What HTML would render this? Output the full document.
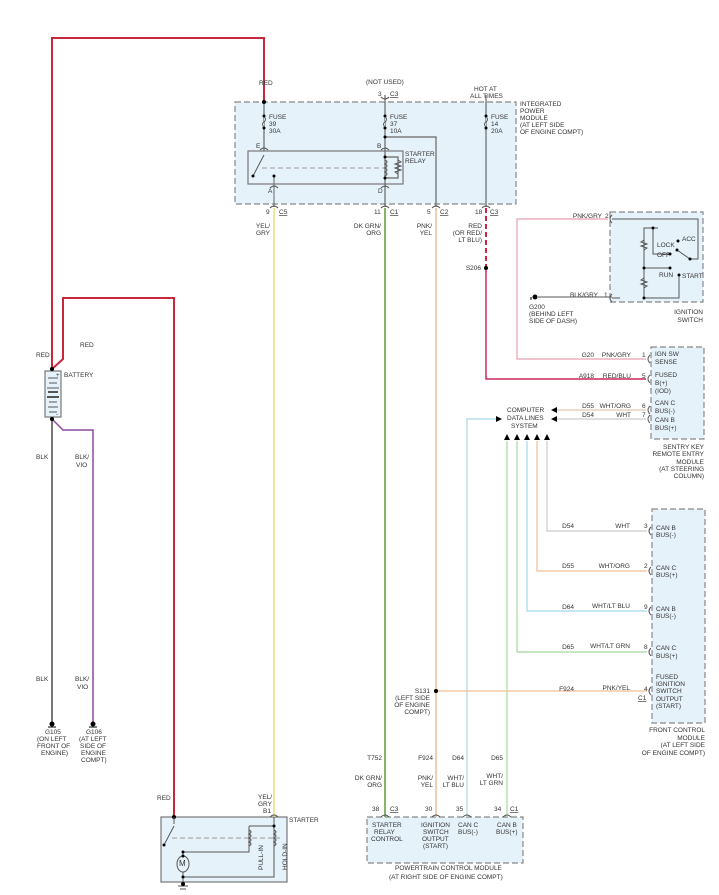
<!DOCTYPE html>
<html><head><meta charset="utf-8"><style>
html,body{margin:0;padding:0;background:#fff;}
svg{display:block;}
text{font-family:"Liberation Sans",sans-serif;font-size:6.5px;fill:#333;}
.b{fill:#e6f2fa;stroke:#888;stroke-width:1.2;stroke-dasharray:6 3;}
.s{fill:#e6f2fa;stroke:#777;stroke-width:1.2;}
.w{fill:none;stroke:#666;stroke-width:1.2;}
.r{text-anchor:end;}
</style></head><body>
<svg width="719" height="895" viewBox="0 0 719 895" xmlns="http://www.w3.org/2000/svg">
<rect class="b" x="235" y="102" width="281" height="102"/>
<rect class="s" x="248" y="151" width="155" height="33"/>
<rect class="b" x="610" y="212" width="93" height="90"/>
<rect class="b" x="651" y="347" width="53" height="92"/>
<rect class="b" x="652" y="509" width="53" height="214"/>
<rect class="b" x="367" y="817" width="156" height="46"/>
<rect class="s" x="161" y="817" width="126" height="65"/>
<rect class="s" x="45" y="371" width="16" height="46"/>

<polyline fill="none" stroke="#c8283c" stroke-width="2" points="52,369 52,38 264,38 264,102"/>
<polyline fill="none" stroke="#c8283c" stroke-width="2" points="52,369 63,359 63,298 174,298 174,817"/>
<line x1="52" y1="419" x2="52" y2="722" stroke="#777" stroke-width="2"/>
<polyline fill="none" stroke="#8a4aa0" stroke-width="1.5" points="52,419 63,430 93,430 93,722"/>
<circle cx="52" cy="369" r="2" fill="#000"/><circle cx="52" cy="419" r="2" fill="#000"/>
<g stroke="#555" stroke-width="1">
<line x1="48" y1="378" x2="58" y2="378"/><line x1="49" y1="383" x2="57" y2="383"/>
<line x1="47" y1="388" x2="59" y2="388"/><line x1="48" y1="392" x2="58" y2="392" stroke-width="2"/>
<line x1="47" y1="397" x2="59" y2="397" stroke-width="2"/><line x1="49" y1="402" x2="57" y2="402"/>
<line x1="48" y1="407" x2="58" y2="407"/><line x1="49" y1="412" x2="57" y2="412"/></g>
<text x="56" y="377" style="font-size:6px">+</text><text x="56" y="416" style="font-size:6px">-</text>

<line class="w" x1="264" y1="102" x2="264" y2="151"/>
<line class="w" x1="385" y1="95" x2="385" y2="151"/>
<line class="w" x1="486" y1="95" x2="486" y2="207"/>
<polyline class="w" points="385,137 436,137 436,207"/>
<circle cx="264" cy="102" r="2" fill="#000"/>
<g fill="#000"><circle cx="264" cy="116" r="1.5"/><circle cx="264" cy="128" r="1.5"/><circle cx="385" cy="116" r="1.5"/><circle cx="385" cy="128" r="1.5"/><circle cx="486" cy="116" r="1.5"/><circle cx="486" cy="128" r="1.5"/><circle cx="385" cy="137" r="1.5"/></g>
<path d="M264,117 q3,2 0,5 q-3,2 0,5 M385,117 q3,2 0,5 q-3,2 0,5 M486,117 q3,2 0,5 q-3,2 0,5" fill="#e6f2fa" stroke="#555" stroke-width="1"/>
<line x1="264" y1="155" x2="253" y2="176" stroke="#555"/><circle cx="253" cy="176" r="1.5" fill="#000"/>
<line x1="274" y1="175" x2="274" y2="207" stroke="#666"/><circle cx="274" cy="176" r="1.5" fill="#000"/>
<line x1="262" y1="168" x2="385" y2="168" stroke="#999" stroke-dasharray="5 3"/>
<polyline class="w" points="385,151 385,184 385,207"/>
<polyline class="w" points="385,157 398,157 398,178 385,178"/>
<path d="M385,160 q4,2 0,4 q4,2 0,4 q4,2 0,4 q4,2 0,4 M398,160 l3,2 -6,2 6,2 -6,2 6,2 -6,2 3,2" fill="none" stroke="#555" stroke-width="1"/>
<circle cx="385" cy="157" r="1.5" fill="#000"/><circle cx="385" cy="178" r="1.5" fill="#000"/>
<g fill="none" stroke="#555"><path d="M260,150 q4,-4 8,0"/><path d="M381,150 q4,-4 8,0"/><path d="M270,188 q4,-4 8,0"/><path d="M381,188 q4,-4 8,0"/>
<path d="M270,208 q4,-4 8,0"/><path d="M381,208 q4,-4 8,0"/><path d="M432,208 q4,-4 8,0"/><path d="M482,208 q4,-4 8,0"/><path d="M381,97 q4,4 8,0"/></g>
<text x="269" y="119">FUSE</text><text x="269" y="126">39</text><text x="269" y="133">30A</text>
<text x="390" y="119">FUSE</text><text x="390" y="126">37</text><text x="390" y="133">10A</text>
<text x="491" y="119">FUSE</text><text x="491" y="126">14</text><text x="491" y="133">20A</text>
<text x="256" y="148">E</text><text x="377" y="148">B</text><text x="268" y="193">A</text><text x="378" y="193">D</text>
<text x="405" y="156">STARTER</text><text x="405" y="163">RELAY</text>
<text x="520" y="106">INTEGRATED</text><text x="520" y="113">POWER</text><text x="520" y="120">MODULE</text><text x="520" y="127">(AT LEFT SIDE</text><text x="520" y="134">OF ENGINE COMPT)</text>
<text x="366" y="84">(NOT USED)</text><text x="378" y="96">3</text><text x="390" y="96" text-decoration="underline">C3</text>
<text x="474" y="91">HOT AT</text><text x="470" y="98">ALL TIMES</text>
<text x="259" y="85">RED</text>
<text x="266" y="214">9</text><text x="279" y="214" text-decoration="underline">C5</text>
<text x="374" y="214">11</text><text x="390" y="214" text-decoration="underline">C1</text>
<text x="427" y="214">5</text><text x="440" y="214" text-decoration="underline">C2</text>
<text x="475" y="214">18</text><text x="490" y="214" text-decoration="underline">C3</text>
<text class="r" x="270" y="228">YEL/</text><text class="r" x="270" y="235">GRY</text>
<text class="r" x="381" y="228">DK GRN/</text><text class="r" x="381" y="235">ORG</text>
<text class="r" x="432" y="228">PNK/</text><text class="r" x="432" y="235">YEL</text>
<text class="r" x="482" y="228">RED</text><text class="r" x="482" y="235">(OR RED/</text><text class="r" x="482" y="242">LT BLU)</text>

<line x1="274" y1="208" x2="274" y2="817" stroke="#e2e27a" stroke-width="1.5"/>
<line x1="385" y1="208" x2="385" y2="817" stroke="#5a9e3a" stroke-width="1.5"/>
<line x1="436" y1="208" x2="436" y2="817" stroke="#efbf98" stroke-width="1.5"/>
<line x1="486" y1="208" x2="486" y2="268" stroke="#c8283c" stroke-width="2" stroke-dasharray="5 3"/>
<polyline fill="none" stroke="#c8285a" stroke-width="1.5" points="486,268 486,379 646,379"/>
<circle cx="486" cy="268" r="2" fill="#000"/><text class="r" x="481" y="270">S206</text>
<polyline fill="none" stroke="#e8a0b0" stroke-width="1.2" points="608,219 517,219 517,359 646,359"/>
<line x1="556" y1="410" x2="646" y2="410" stroke="#e8c8b0" stroke-width="1.2"/>
<line x1="556" y1="419" x2="646" y2="419" stroke="#ccc" stroke-width="1.2"/>
<polygon points="551,410 557,407 557,413" fill="#000"/><polygon points="551,419 557,416 557,422" fill="#000"/>
<polyline fill="none" stroke="#a8d8e8" stroke-width="1.2" points="467,817 467,419 496,419"/>
<polygon points="502,419 496,416 496,422" fill="#000"/>
<text x="507" y="412">COMPUTER</text><text x="507" y="420">DATA LINES</text><text x="511" y="428">SYSTEM</text>
<g fill="#000"><polygon points="507,434 504,440 510,440"/><polygon points="517,434 514,440 520,440"/><polygon points="527,434 524,440 530,440"/><polygon points="537,434 534,440 540,440"/><polygon points="547,434 544,440 550,440"/></g>
<line x1="507" y1="441" x2="507" y2="817" stroke="#a8d8a0" stroke-width="1.2"/>
<polyline fill="none" stroke="#a8d8a0" stroke-width="1.2" points="517,441 517,652 647,652"/>
<polyline fill="none" stroke="#a8d8e8" stroke-width="1.2" points="527,441 527,611 647,611"/>
<polyline fill="none" stroke="#efbf98" stroke-width="1.2" points="537,441 537,571 647,571"/>
<polyline fill="none" stroke="#ccc" stroke-width="1.2" points="547,441 547,531 647,531"/>
<line x1="436" y1="691" x2="647" y2="691" stroke="#efbf98" stroke-width="1.2"/>
<circle cx="436" cy="691" r="2" fill="#000"/>
<text class="r" x="430" y="693">S131</text><text class="r" x="430" y="700">(LEFT SIDE</text><text class="r" x="430" y="707">OF ENGINE</text><text class="r" x="430" y="714">COMPT)</text>

<g fill="none" stroke="#555"><path d="M650,355 q-4,4 0,8"/><path d="M650,375 q-4,4 0,8"/><path d="M650,406 q-4,4 0,8"/><path d="M650,415 q-4,4 0,8"/>
<path d="M651,527 q-4,4 0,8"/><path d="M651,567 q-4,4 0,8"/><path d="M651,607 q-4,4 0,8"/><path d="M651,648 q-4,4 0,8"/><path d="M651,687 q-4,4 0,8"/>
<path d="M612,215 q-4,4 0,8"/><path d="M612,294 q-4,4 0,8"/>
<path d="M381,817 q4,-4 8,0"/><path d="M432,817 q4,-4 8,0"/><path d="M463,817 q4,-4 8,0"/><path d="M503,817 q4,-4 8,0"/><path d="M270,817 q4,-4 8,0"/></g>

<text class="r" x="594" y="357">G20</text><text class="r" x="631" y="357">PNK/GRY</text><text x="642" y="357">1</text>
<text class="r" x="594" y="378">A918</text><text class="r" x="631" y="378">RED/BLU</text><text x="642" y="378">5</text>
<text class="r" x="594" y="408">D55</text><text class="r" x="631" y="408">WHT/ORG</text><text x="642" y="408">6</text>
<text class="r" x="594" y="417">D54</text><text class="r" x="631" y="417">WHT</text><text x="642" y="417">7</text>
<text x="655" y="356">IGN SW</text><text x="655" y="364">SENSE</text>
<text x="655" y="377">FUSED</text><text x="655" y="385">B(+)</text><text x="655" y="393">(IOD)</text>
<text x="655" y="405">CAN C</text><text x="655" y="413">BUS(-)</text><text x="655" y="422">CAN B</text><text x="655" y="430">BUS(+)</text>
<text class="r" x="704" y="449">SENTRY KEY</text><text class="r" x="704" y="456">REMOTE ENTRY</text><text class="r" x="704" y="464">MODULE</text><text class="r" x="704" y="471">(AT STEERING</text><text class="r" x="704" y="478">COLUMN)</text>

<text class="r" x="602" y="218">PNK/GRY</text><text x="605" y="218">2</text>
<text class="r" x="598" y="297">BLK/GRY</text><text x="604" y="297">1</text>
<line x1="538" y1="297" x2="612" y2="297" stroke="#555"/>
<circle cx="535" cy="297" r="2.5" fill="#000"/><line x1="531" y1="297" x2="531" y2="300" stroke="#000"/>
<text x="529" y="309">G200</text><text x="529" y="316">(BEHIND LEFT</text><text x="529" y="323">SIDE OF DASH)</text>
<text class="r" x="703" y="314">IGNITION</text><text class="r" x="703" y="322">SWITCH</text>
<g fill="none" stroke="#555" stroke-width="1">
<polyline points="612,219 698,219 698,259 690,259"/>
<line x1="690" y1="259" x2="677" y2="250"/>
<polyline points="644,298 644,228 658,228 l2,-2 3,4 3,-4 3,4 3,-4 2,2 678,228 678,241"/>
<polyline points="653,228 653,254 670,254"/>
<line x1="644" y1="268" x2="670" y2="268"/>
<polyline points="679,275 679,298 644,298"/>
<polyline points="612,298 620,298 l2,-3 3,6 3,-6 3,6 3,-3 644,298"/>
<path d="M644,240 l-3,2 6,2 -6,2 6,2 -3,2 M644,278 l-3,2 6,2 -6,2 6,2 -3,2"/>
</g>
<g fill="#000"><circle cx="653" cy="228" r="1.5"/><circle cx="678" cy="241" r="1.5"/><circle cx="670" cy="254" r="1.5"/><circle cx="644" cy="268" r="1.5"/><circle cx="670" cy="268" r="1.5"/><circle cx="679" cy="275" r="1.5"/><circle cx="644" cy="298" r="1.5"/><circle cx="690" cy="259" r="1.5"/><circle cx="677" cy="250" r="1.5"/></g>
<text x="682" y="241">ACC</text><text x="657" y="247">LOCK</text><text x="657" y="257">OFF</text><text x="659" y="277">RUN</text><text x="682" y="278">START</text>

<text class="r" x="574" y="528">D54</text><text class="r" x="630" y="528">WHT</text><text x="644" y="528">3</text>
<text class="r" x="574" y="568">D55</text><text class="r" x="630" y="568">WHT/ORG</text><text x="644" y="568">2</text>
<text class="r" x="574" y="609">D64</text><text class="r" x="630" y="608">WHT/LT BLU</text><text x="644" y="609">9</text>
<text class="r" x="574" y="649">D65</text><text class="r" x="630" y="648">WHT/LT GRN</text><text x="644" y="649">8</text>
<text class="r" x="574" y="691">F924</text><text class="r" x="630" y="690">PNK/YEL</text><text x="644" y="691">4</text>
<text x="638" y="700" text-decoration="underline">C1</text>
<text x="656" y="530">CAN B</text><text x="656" y="537">BUS(-)</text>
<text x="656" y="570">CAN C</text><text x="656" y="577">BUS(+)</text>
<text x="656" y="611">CAN B</text><text x="656" y="618">BUS(-)</text>
<text x="656" y="650">CAN C</text><text x="656" y="658">BUS(+)</text>
<text x="656" y="679">FUSED</text><text x="656" y="686">IGNITION</text><text x="656" y="693">SWITCH</text><text x="656" y="701">OUTPUT</text><text x="656" y="708">(START)</text>
<text class="r" x="705" y="732">FRONT CONTROL</text><text class="r" x="705" y="740">MODULE</text><text class="r" x="705" y="747">(AT LEFT SIDE</text><text class="r" x="705" y="755">OF ENGINE COMPT)</text>

<text class="r" x="382" y="760">T752</text><text class="r" x="382" y="780">DK GRN/</text><text class="r" x="382" y="787">ORG</text>
<text class="r" x="433" y="760">F924</text><text class="r" x="433" y="780">PNK/</text><text class="r" x="433" y="787">YEL</text>
<text class="r" x="464" y="760">D64</text><text class="r" x="464" y="780">WHT/</text><text class="r" x="464" y="787">LT BLU</text>
<text class="r" x="503" y="760">D65</text><text class="r" x="503" y="778">WHT/</text><text class="r" x="503" y="785">LT GRN</text>
<text x="372" y="811">38</text><text x="390" y="811" text-decoration="underline">C3</text>
<text x="425" y="811">30</text><text x="456" y="811">35</text><text x="494" y="811">34</text><text x="510" y="811" text-decoration="underline">C1</text>
<text x="372" y="827">STARTER</text><text x="374" y="834">RELAY</text><text x="371" y="841">CONTROL</text>
<text x="421" y="827">IGNITION</text><text x="423" y="834">SWITCH</text><text x="422" y="841">OUTPUT</text><text x="423" y="848">(START)</text>
<text x="458" y="827">CAN C</text><text x="458" y="834">BUS(-)</text>
<text x="497" y="827">CAN B</text><text x="496" y="834">BUS(+)</text>
<text x="395" y="870">POWERTRAIN CONTROL MODULE</text>
<text x="389" y="879">(AT RIGHT SIDE OF ENGINE COMPT)</text>

<text x="36" y="357">RED</text><text x="80" y="347">RED</text><text x="64" y="377">BATTERY</text>
<text x="36" y="459">BLK</text><text x="75" y="459">BLK/</text><text x="76" y="467">VIO</text>
<text x="36" y="681">BLK</text><text x="75" y="681">BLK/</text><text x="77" y="689">VIO</text>
<g fill="#000"><circle cx="52" cy="724" r="2.5"/><circle cx="93" cy="724" r="2.5"/></g>
<g stroke="#000"><line x1="48" y1="727" x2="56" y2="727"/><line x1="89" y1="727" x2="97" y2="727"/></g>
<text x="45" y="734">G105</text><text x="37" y="741">(ON LEFT</text><text x="37" y="748">FRONT OF</text><text x="41" y="755">ENGINE)</text>
<text x="86" y="734">G106</text><text x="79" y="741">(AT LEFT</text><text x="80" y="748">SIDE OF</text><text x="81" y="755">ENGINE</text><text x="81" y="762">COMPT)</text>

<text x="157" y="800">RED</text><text x="258" y="799">YEL/</text><text x="258" y="806">GRY</text><text x="263" y="813">B1</text><text x="289" y="822">STARTER</text>
<circle cx="174" cy="817" r="2" fill="#000"/>
<g fill="none" stroke="#555" stroke-width="1">
<line x1="174" y1="817" x2="174" y2="824"/><line x1="174" y1="826" x2="164" y2="845"/>
<line x1="172" y1="838" x2="280" y2="838" stroke="#999" stroke-dasharray="5 3"/>
<polyline points="274,817 274,877 183,877"/>
<polyline points="249,826 274,826"/><polyline points="249,826 249,852 183,852 183,856"/>
<line x1="183" y1="872" x2="183" y2="886"/>
<path d="M249,830 q4,2 0,4 q4,2 0,4 q4,2 0,4 q4,2 0,4 M274,830 q4,2 0,4 q4,2 0,4 q4,2 0,4 q4,2 0,4"/>
<ellipse cx="183" cy="864" rx="6" ry="8"/>
<line x1="178" y1="886" x2="188" y2="886"/><line x1="180" y1="889" x2="186" y2="889"/>
</g>
<g fill="#000"><circle cx="164" cy="845" r="1.5"/><circle cx="183" cy="852" r="1.5"/><circle cx="183" cy="856" r="1.5"/><circle cx="183" cy="877" r="1.5"/><circle cx="183" cy="884" r="2"/><circle cx="274" cy="826" r="1.5"/></g>
<text x="179" y="866" style="font-size:8px">M</text>
<text transform="translate(263,870) rotate(-90)">PULL-IN</text>
<text transform="translate(287,870) rotate(-90)">HOLD-IN</text>
</svg>
</body></html>
